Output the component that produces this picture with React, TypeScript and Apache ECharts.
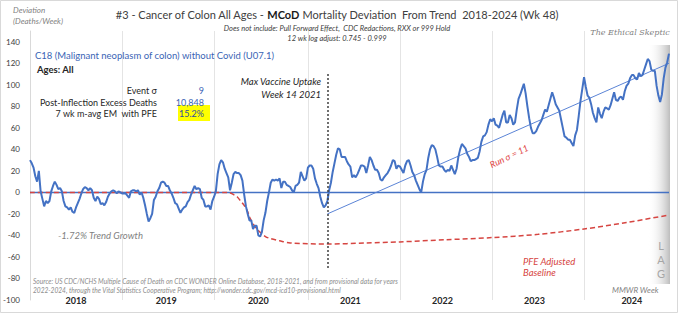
import React, { useEffect, useRef } from "react";
import * as echarts from "echarts";

// ---------- data ----------
const years = ["2018", "2019", "2020", "2021", "2022", "2023", "2024"];
const weeksPerYear = [52, 52, 53, 52, 52, 52, 49];
const yearLabelIdx = [26, 77, 129, 181, 233, 285, 340];

const weeklyDeviation = [
  // 2018
  30, 27, 23, 15, 10, 20, 1, -6, -13, -8, -10, -8, 1, 6, 10, 7, 3, 4, 1, -8, -13, -14, -16, -14, -18, -19,
  -14, -10, -6, -1, 3, 5, 4, 2, 4, 2, -5, -8, -4, -6, -11, -10, -12, -9, -4, -1, 1, 2, 1, -1, 1, 0,
  // 2019
  -1, -1, -1, -3, -5, 1, 2, 2, 1, 2, -2, 0, -5, -12, -20, -27, -24, -20, -7, -4, 1, 4,
  9, 10, 9, 6, 6, 2, -1, -5, -10, -11, -15, -19, -16, -14, -13, -9, -7, -2, 2, 6, 3, 4, 3, -5, -7, -13, -13, -12, -16, -8,
  // 2020
  -4, 1, 17, 26, 30, 28, 22, 18, 14, 2, 9, 17, 19, 18, 18, 16, 11, -2, -13, -20, -26, -26, -34, -31, -31,
  -40, -41, -37, -26, -19, -8, 0, 9, 12, 11, 12, 11, 13, 4, 10, 10, 7, 6, 5, 2, 0, 6, 7, 9, 19, 15, 11, 13,
  // 2021
  23, 25, 25, 22, 13, 8, 4, -4, -10, -14, -12, -8, 2, 9, 19, 27, 35, 41, 40, 33, 33, 33, 29, 26, 24, 14,
  16, 14, 17, 21, 25, 25, 24, 18, 25, 33, 30, 25, 21, 21, 18, 12, 11, 14, 16, 18, 21, 25, 30, 29, 22, 25,
  // 2022
  24, 21, 18, 25, 29, 30, 25, 19, 16, 11, 7, 3, 0, 10, 17, 21, 32, 40, 44, 43, 40, 33, 25, 24, 24, 21,
  19, 21, 20, 25, 21, 17, 22, 33, 40, 45, 43, 41, 36, 33, 29, 30, 30, 31, 32, 38, 47, 52, 53, 56, 63, 68,
  // 2023
  66, 69, 63, 62, 60, 66, 72, 76, 65, 65, 72, 69, 63, 65, 77, 87, 91, 96, 101, 92, 80, 69, 60, 55, 55, 57,
  61, 64, 67, 72, 77, 75, 81, 87, 93, 88, 82, 79, 76, 68, 60, 52, 51, 49, 49, 46, 43, 53, 58, 71, 85, 96,
  // 2024
  107, 98, 90, 88, 82, 74, 69, 65, 79, 73, 69, 75, 79, 78, 77, 81, 87, 93, 86, 85, 88, 89, 86, 94, 99,
  101, 106, 109, 109, 106, 105, 111, 108, 109, 114, 119, 124, 122, 114, 113, 113, 99, 90, 84, 91, 106, 116, 121, 129,
];

// PFE adjusted baseline: [week index, deviation]
const pfeBaseline = [
  [0, 0], [112, 0], [115, -2], [117, -4], [119, -8], [121, -12], [123, -18], [124, -23], [126, -29],
  [128, -34], [130, -37], [133, -41], [136, -43], [141, -45], [147, -47], [168, -48], [190, -47],
  [209, -46], [235, -44], [261, -42], [287, -39], [313, -34], [337, -28], [361, -21],
];
const trendLine = [[168, -20], [361, 120]];
const zeroLine = [[0, 0], [361, 0]];
const vaccineWeekIdx = 168;
const vaccineLineRange = [110, -71];

// ---------- derived ----------
const categories: string[] = [];
const yearStartIdx: number[] = [];
years.forEach((y, yi) => {
  yearStartIdx.push(categories.length);
  for (let w = 1; w <= weeksPerYear[yi]; w++) categories.push(`${y}-W${w}`);
});

const FONT = "Lato";
const BLUE = "#4472C4";
const RED = "#d64541";

export default function App() {
  const ref = useRef<HTMLDivElement>(null);
  useEffect(() => {
    if (!ref.current) return;
    const chart = echarts.init(ref.current, undefined, { renderer: "svg" });
    const txt = (x: number, y: number, text: string, style: any, extra: any = {}) => ({
      type: "text",
      x,
      y,
      z: 10,
      ...extra,
      style: { text, fontFamily: FONT, verticalAlign: "middle", ...style },
    });
    chart.setOption({
      animation: false,
      backgroundColor: "#ffffff",
      grid: { left: 30, right: 11, top: 31, bottom: 31, containLabel: false },
      xAxis: {
        type: "category",
        data: categories,
        boundaryGap: false,
        axisLine: { show: false },
        axisTick: { show: false },
        axisLabel: {
          interval: (i: number) => yearLabelIdx.includes(i),
          formatter: (_v: string, i: number) => years[yearLabelIdx.indexOf(i)] ?? "",
          margin: -4,
          fontFamily: FONT,
          fontSize: 9,
          fontWeight: "bold",
          color: "#262626",
        },
        splitLine: {
          show: true,
          interval: (i: number) => i > 0 && yearStartIdx.includes(i),
          lineStyle: { color: "#e4e4e4", width: 1 },
        },
      },
      yAxis: {
        type: "value",
        min: -100,
        max: 150,
        interval: 20,
        axisLine: { show: true, lineStyle: { color: "#d9d9d9" } },
        axisTick: { show: false },
        splitLine: { show: false },
        axisLabel: {
          formatter: (v: number) => (v > 140 ? "" : String(v)),
          margin: 10,
          fontFamily: FONT,
          fontSize: 8,
          color: "#404040",
        },
      },
      series: [
        {
          type: "line",
          data: zeroLine,
          symbol: "none",
          lineStyle: { color: BLUE, width: 1.5 },
          z: 2,
          silent: true,
        },
        {
          type: "line",
          data: pfeBaseline,
          symbol: "none",
          smooth: 0.3,
          lineStyle: { color: RED, width: 1.5, type: [5, 3] },
          z: 3,
          silent: true,
        },
        {
          type: "line",
          data: trendLine,
          symbol: "none",
          lineStyle: { color: "#5b84d6", width: 1 },
          z: 3,
          silent: true,
        },
        {
          type: "line",
          data: weeklyDeviation,
          symbol: "none",
          lineStyle: { color: BLUE, width: 2 },
          z: 4,
          silent: true,
          markLine: {
            silent: true,
            symbol: "none",
            label: { show: false },
            lineStyle: { color: "#404040", type: [2, 2], width: 1.5 },
            data: [
              [
                { coord: [vaccineWeekIdx, vaccineLineRange[0]] },
                { coord: [vaccineWeekIdx, vaccineLineRange[1]] },
              ],
            ],
          },
        },
      ],
      graphic: [
        {
          type: "rect",
          z: -10,
          shape: { x: 0.5, y: 0.5, width: 677, height: 312 },
          style: { fill: "none", stroke: "#d9d9d9", lineWidth: 1 },
        },
        {
          type: "rect",
          z: 0,
          shape: { x: 648, y: 45, width: 22, height: 239 },
          style: {
            fill: new echarts.graphic.LinearGradient(0, 0, 1, 0, [
              { offset: 0, color: "rgba(255,255,255,0)" },
              { offset: 1, color: "rgba(185,185,185,0.95)" },
            ]),
          },
        },
        txt(661, 245, "L", { fill: "#a6a6a6", fontSize: 11, align: "center" }),
        txt(661, 259, "A", { fill: "#a6a6a6", fontSize: 11, align: "center" }),
        txt(661, 273, "G", { fill: "#a6a6a6", fontSize: 11, align: "center" }),
        txt(13, 10, "Deviation", { fill: "#7f7f7f", fontSize: 8, fontStyle: "italic" }),
        txt(13, 21, "(Deaths/Week)", { fill: "#7f7f7f", fontSize: 8, fontStyle: "italic" }),
        {
          type: "text",
          x: 337,
          y: 14,
          z: 10,
          style: {
            text: "{a|#3 - Cancer of Colon All Ages - }{b|MCoD}{a| Mortality Deviation  From Trend  2018-2024 (Wk 48)}",
            align: "center",
            verticalAlign: "middle",
            rich: {
              a: { fontFamily: FONT, fontSize: 11, fill: "#404040", color: "#404040" },
              b: { fontFamily: FONT, fontSize: 11, fontWeight: "bold", fill: "#1a1a1a", color: "#1a1a1a" },
            },
          },
        },
        txt(337, 28, "Does not include: Pull Forward Effect,  CDC Redactions, RXX or 999 Hold", {
          fill: "#404040", fontSize: 7.5, fontStyle: "italic", align: "center",
        }),
        txt(337, 38, "12 wk log adjust: 0.745 - 0.999", {
          fill: "#404040", fontSize: 7.5, fontStyle: "italic", align: "center",
        }),
        txt(630, 32, "The Ethical Skeptic", {
          fill: "#7f7f7f", fontSize: 8, fontStyle: "italic", align: "center", fontFamily: "DejaVu Serif",
        }),
        txt(35, 55, "C18 (Malignant neoplasm of colon) without Covid (U07.1)", { fill: "#3a64b5", fontSize: 9.5 }),
        txt(37, 69, "Ages: All", { fill: "#262626", fontSize: 9.5, fontWeight: "bold" }),
        txt(157, 90, "Event σ", { fill: "#262626", fontSize: 9, align: "right" }),
        txt(157, 102, "Post-Inflection Excess Deaths", { fill: "#262626", fontSize: 9, align: "right" }),
        txt(157, 113, "7 wk m-avg EM  with PFE", { fill: "#262626", fontSize: 9, align: "right" }),
        {
          type: "rect",
          z: 9,
          shape: { x: 178, y: 105, width: 32, height: 16 },
          style: { fill: "#ffff00" },
        },
        txt(204, 90, "9", { fill: "#3a64b5", fontSize: 9, align: "right" }),
        txt(204, 102, "10,848", { fill: "#3a64b5", fontSize: 9, align: "right" }),
        txt(204, 113, "15.2%", { fill: "#2f4f9f", fontSize: 9, align: "right" }),
        txt(321, 81, "Max Vaccine Uptake", { fill: "#262626", fontSize: 9.5, fontStyle: "italic", align: "right" }),
        txt(321, 94, "Week 14 2021", { fill: "#262626", fontSize: 9.5, fontStyle: "italic", align: "right" }),
        txt(509, 156, "Run σ = 11", { fill: "#e03c3c", fontSize: 9, fontStyle: "italic", align: "center" }, { rotation: 0.45 }),
        txt(58, 235, "-1.72% Trend Growth", { fill: "#7f7f7f", fontSize: 9.5, fontStyle: "italic" }),
        txt(523, 261, "PFE Adjusted", { fill: RED, fontSize: 9.5, fontStyle: "italic" }),
        txt(523, 272, "Baseline", { fill: RED, fontSize: 9.5, fontStyle: "italic" }),
        txt(33, 281, "Source: US CDC/NCHS Multiple Cause of Death on CDC WONDER Online Database, 2018-2021, and from provisional data for years", {
          fill: "#8c8c8c", fontSize: 6.6, fontStyle: "italic",
        }),
        txt(33, 290, "2022-2024, through the Vital Statistics Cooperative Program; http://wonder.cdc.gov/mcd-icd10-provisional.html", {
          fill: "#8c8c8c", fontSize: 6.6, fontStyle: "italic",
        }),
        txt(612, 290, "MMWR Week", { fill: "#7f7f7f", fontSize: 8, fontStyle: "italic" }),
      ],
    });
    return () => chart.dispose();
  }, []);
  return (
    <div
      ref={ref}
      style={{ position: "fixed", left: 0, top: 0, width: 680, height: 331, background: "#fff" }}
    />
  );
}
